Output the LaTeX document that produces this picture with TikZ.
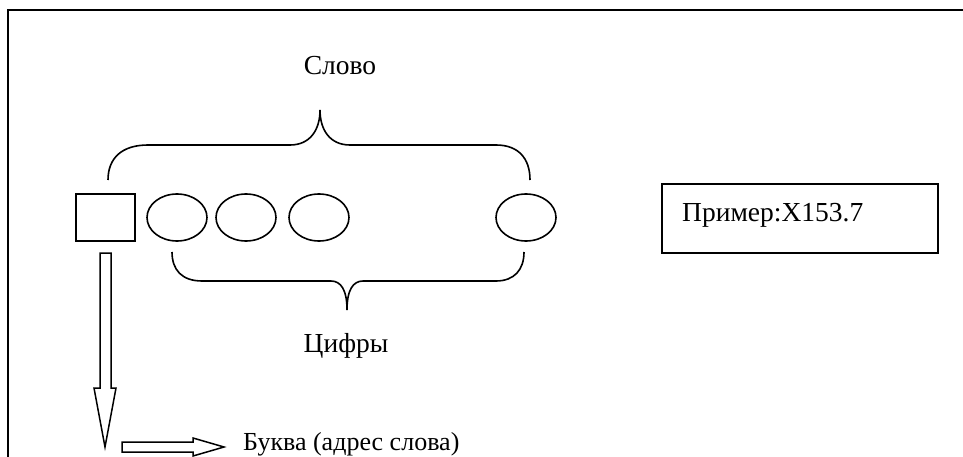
\documentclass[tikz,border=0pt]{standalone}
\usepackage{fontspec}
\setmainfont{Liberation Serif}
\usetikzlibrary{shapes.geometric}
\begin{document}
\begin{tikzpicture}[x=1pt,y=-1pt,
  shape line/.style={line width=1.6pt,black},
  cellbox/.style={draw,shape line,rectangle,minimum width=59pt,minimum height=47pt,inner sep=0pt},
  digit/.style={draw,shape line,ellipse,minimum width=60pt,minimum height=47pt,inner sep=0pt},
  label/.style={font=\fontsize{27.5}{32}\selectfont,inner sep=0pt},
  blockarrow/.style={line width=1.5pt,draw=black,fill=white,line join=miter}]
\useasboundingbox (0,0) rectangle (963,457);
\clip (0,0) rectangle (963,457);

% outer frame (only its top and left edges fall inside the page)
\draw[line width=2.2pt] (975,10) -- (8,10) -- (8,470);

% letter cell and digit cells
\node[cellbox] (letter) at (105.5,217.5) {};
\node[digit] (d1) at (177,217.5) {};
\node[digit] (d2) at (246,217.5) {};
\node[digit] (d3) at (319,217.5) {};
\node[digit] (d4) at (526,217.5) {};

% brace over the word
\draw[shape line] (108,180) .. controls (108,158) and (122,145) .. (148,145)
  -- (290,145) .. controls (310,145) and (320,130) .. (320,110)
  .. controls (320,130) and (330,145) .. (350,145)
  -- (496,145) .. controls (518,145) and (530,158) .. (530,180);
\node[label,anchor=base] (word) at (340,75) {Слово};

% brace under the digits
\draw[shape line] (172,252) .. controls (172,270) and (182,281) .. (202,281)
  -- (331,281) .. controls (341,281) and (347,290) .. (347,310)
  .. controls (347,290) and (353,281) .. (363,281)
  -- (496,281) .. controls (514,281) and (524,270) .. (524,252);
\node[label,anchor=base] (digits) at (346,352) {Цифры};

% example box
\node[draw,line width=1.6pt,minimum width=276pt,minimum height=69pt,inner sep=0pt] (example) at (800,218.5) {};
\node[label,anchor=base west] (exampletext) at (682,222) {Пример:X153.7};

% block arrows from the letter cell
\draw[blockarrow] (100,253) -- (111,253) -- (111,388) -- (116,388) -- (105,447)
  -- (94,388) -- (100,388) -- cycle;
\draw[blockarrow] (122,442) -- (193,442) -- (193,438) -- (224,447) -- (193,456)
  -- (193,452) -- (122,452) -- cycle;
\node[label,font=\fontsize{26}{30}\selectfont,anchor=base west] (lettertext) at (243,450) {Буква (адрес слова)};
\end{tikzpicture}
\end{document}
